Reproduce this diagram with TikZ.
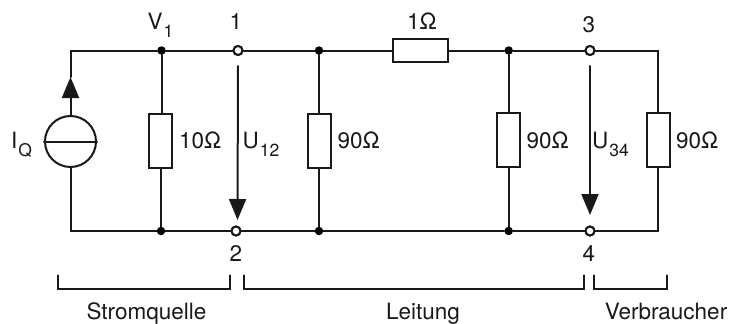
\documentclass[tikz,border=0pt]{standalone}
\usepackage{fontspec}
\setmainfont{TeX Gyre Heros}
\usetikzlibrary{arrows.meta}
\newcommand{\lowtext}[1]{\raisebox{-8.5pt}{\fontsize{17.5}{17.5}\selectfont #1}}
\tikzset{
  wire/.style={line width=2pt, line cap=round, line join=miter, draw=black!90},
  res/.style={rectangle, draw=black!90, line width=2pt, fill=white, inner sep=0pt, minimum width=23pt, minimum height=54.5pt},
  resh/.style={rectangle, draw=black!90, line width=2pt, fill=white, inner sep=0pt, minimum width=55pt, minimum height=23pt},
  dot/.style={circle, fill=black, inner sep=0pt, minimum size=8.5pt},
  term/.style={circle, draw=black!90, fill=white, line width=2pt, inner sep=0pt, minimum size=9pt},
  src/.style={circle, draw=black!90, fill=white, line width=2pt, inner sep=0pt, minimum size=51pt},
  arr/.style={wire, -{Triangle[length=21pt,width=17pt]}},
  lbl/.style={anchor=base west, inner sep=0pt, font=\fontsize{22.5}{24}\selectfont, text=black!90},
  lblc/.style={anchor=base, inner sep=0pt, font=\fontsize{22.5}{24}\selectfont, text=black!90}
}
\begin{document}
\begin{tikzpicture}[x=1pt,y=-1pt]
\useasboundingbox (0,0) rectangle (729,324);
% corners
\coordinate (tl) at (70.5,50.5);
\coordinate (bl) at (70.5,231);
\coordinate (tr) at (658,50.5);
\coordinate (br) at (658,231);
\coordinate (tipsrc) at (70.5,77);
% junctions and terminals
\node[dot] (ja) at (161.5,50.5) {};
\node[dot] (jb) at (161,231) {};
\node[term] (t1) at (238,50.5) {};
\node[term] (t2) at (236,231) {};
\node[dot] (jc) at (319,50.5) {};
\node[dot] (jd) at (319,231) {};
\node[dot] (je) at (508.7,50.5) {};
\node[dot] (jf) at (508.7,231) {};
\node[term] (t3) at (590,50.5) {};
\node[term] (t4) at (590,231) {};
% resistors
\node[res] (r1) at (160.5,141) {};
\node[res] (r2) at (319.5,141) {};
\node[resh] (r3) at (420.5,50.5) {};
\node[res] (r4) at (508.5,140) {};
\node[res] (r5) at (658.5,140) {};
\node[src] (s) at (70.5,141.5) {};
% wires
\draw[wire] (s.west) -- (s.east);
\draw[arr] (s.north) -- (tipsrc);
\draw[wire] (tipsrc) -- (tl) -- (ja) -- (t1) -- (jc) -- (r3) -- (je) -- (t3) -- (tr) -- (r5.north -| tr);
\draw[wire] (s.south) -- (bl) -- (jb) -- (t2) -- (jd) -- (jf) -- (t4) -- (br) -- (r5.south -| br);
\draw[wire] (ja) -- (r1.north -| ja);
\draw[wire] (jb) -- (r1.south -| jb);
\draw[wire] (jc) -- (r2.north -| jc);
\draw[wire] (jd) -- (r2.south -| jd);
\draw[wire] (je) -- (r4.north -| je);
\draw[wire] (jf) -- (r4.south -| jf);
% redraw nodes over wires
\node[term] at (t1) {};
\node[term] at (t2) {};
\node[term] at (t3) {};
\node[term] at (t4) {};
\node[res] at (r1) {};
\node[res] at (r2) {};
\node[resh] at (r3) {};
\node[res] at (r4) {};
\node[res] at (r5) {};
% voltage arrows
\coordinate (ua) at (238,66);
\coordinate (ub) at (237.5,220);
\coordinate (uc) at (590,66);
\coordinate (ud) at (590,215);
\draw[arr] (ua) -- (ub);
\draw[arr] (uc) -- (ud);
% brackets
\draw[wire] (57.7,275.3) |- (229.7,289.3) -- (229.7,275.3);
\draw[wire] (243.7,275.3) |- (583.7,289.3) -- (583.7,275.3);
\draw[wire] (594.3,275.3) |- (667,289.3) -- (667,275.3);
% labels
\node[lbl] (lv) at (147.5,29) {V\kern1pt\lowtext{1}};
\node[lblc] (l1) at (236,29) {1};
\node[lblc] (l2) at (236,261) {2};
\node[lblc] (l3) at (589,32) {3};
\node[lblc] (l4) at (589,261) {4};
\node[lbl] (liq) at (11,148) {I\kern1pt\lowtext{Q}};
\node[lbl] (lu1) at (242.5,148) {U\kern1pt\lowtext{12}};
\node[lbl] (lu2) at (592,148) {U\kern1pt\lowtext{34}};
\node[lbl] (l10) at (179,148) {10Ω};
\node[lbl] (l90a) at (337.5,148) {90Ω};
\node[lblc] (lo) at (422,29) {1Ω};
\node[lbl] (l90b) at (526.5,148) {90Ω};
\node[lbl] (l90c) at (676,148) {90Ω};
\node[lblc] (ls) at (146.5,319) {Stromquelle};
\node[lblc] (ll) at (423,319) {Leitung};
\node[lblc] (lr) at (666,319) {Verbraucher};
\end{tikzpicture}
\end{document}
